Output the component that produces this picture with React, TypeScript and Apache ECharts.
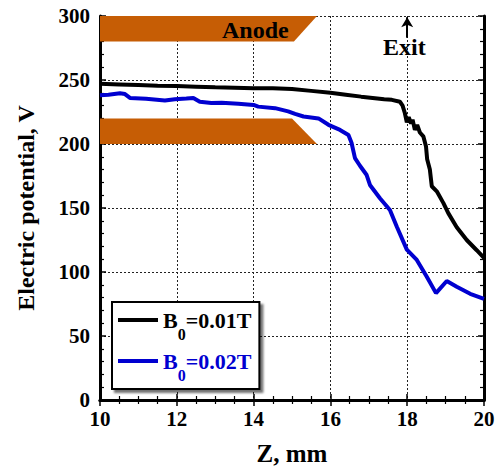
import React, { useEffect, useRef } from "react";
import * as echarts from "echarts";

const seriesNames = ["B0=0.01T", "B0=0.02T"];
const legendLabels: Record<string, string> = {
  "B0=0.01T": "{k|B}{ks|0}{k|=0.01T}",
  "B0=0.02T": "{u|B}{us|0}{u|=0.02T}",
};

const black001: number[][] = [
  [10.0, 247], [10.5, 246.5], [11.0, 246], [11.5, 245.5], [12.0, 245.3], [12.5, 244.8],
  [13.0, 244.3], [13.5, 244], [14.0, 243.5], [14.5, 243.5], [15.0, 243], [15.5, 241.5],
  [16.0, 240], [16.4, 238.5], [16.8, 237], [17.1, 236], [17.4, 235], [17.6, 234.5],
  [17.81, 233], [17.88, 230], [17.94, 224], [17.99, 217], [18.04, 221], [18.1, 216],
  [18.14, 219], [18.2, 211], [18.26, 215], [18.33, 209], [18.42, 206], [18.49, 198],
  [18.52, 188], [18.59, 180], [18.64, 167], [18.77, 163], [18.94, 154], [19.07, 146],
  [19.29, 135], [19.55, 125], [19.81, 117], [20.0, 111],
];

const blue002: number[][] = [
  [10.0, 238], [10.22, 238.5], [10.52, 239.6], [10.65, 239], [10.78, 236], [11.2, 235.3],
  [11.69, 234], [11.95, 235], [12.25, 235.5], [12.43, 236], [12.6, 233], [12.9, 232],
  [13.17, 232.3], [13.6, 231.5], [14.0, 230.5], [14.12, 229.2], [14.56, 228], [14.9, 225.5],
  [15.08, 223.5], [15.3, 221.5], [15.69, 220], [15.95, 215], [16.25, 211], [16.47, 207],
  [16.55, 201], [16.64, 189], [16.77, 183], [16.94, 176], [17.03, 168], [17.29, 157.6],
  [17.55, 148.4], [17.73, 135.4], [17.99, 117.5], [18.25, 109.4], [18.51, 96.3], [18.75, 83.5],
  [19.03, 93], [19.29, 88.5], [19.64, 83], [20.0, 79],
];

const anodeTop: number[][] = [[10, 300], [15.65, 300], [15.05, 280], [10, 280]];
const anodeBottom: number[][] = [[10, 220], [15.0, 220], [15.65, 200], [10, 200]];
const anodePolys = [anodeTop, anodeBottom];

const exitArrow: number[][] = [[18, 283], [18, 299]];

const xTicks = { min: 10, max: 20, interval: 2 };
const yTicks = { min: 0, max: 300, interval: 50 };

const FONT = "'Liberation Serif', 'Times New Roman', serif";

export default function App() {
  const ref = useRef<HTMLDivElement>(null);
  useEffect(() => {
    if (!ref.current) return;
    const chart = echarts.init(ref.current, undefined, { renderer: "svg" });
    const axisLine = { show: true, lineStyle: { color: "#000", width: 3 } };
    const split = { show: true, lineStyle: { color: "#222", width: 1, type: [2, 2] as any } };
    const tick = { show: true, inside: true, length: 6, lineStyle: { color: "#000", width: 1.5 } };
    const minor = (n: number) => ({ show: true, splitNumber: n, length: 4, lineStyle: { color: "#000", width: 1.2 } });
    const labelStyle = { fontFamily: FONT, fontWeight: "bold" as const, fontSize: 21, color: "#000" };

    chart.setOption({
      animation: false,
      backgroundColor: "#fff",
      grid: { left: 100, right: 15, top: 16, bottom: 73, containLabel: false },
      xAxis: [
        {
          type: "value", ...xTicks, position: "bottom",
          name: "Z, mm", nameLocation: "middle", nameGap: 41,
          nameTextStyle: { fontFamily: FONT, fontWeight: "bold", fontSize: 25, color: "#000" },
          axisLine, axisTick: tick, minorTick: minor(4), splitLine: split,
          axisLabel: { ...labelStyle, margin: 8, formatter: (v: number) => String(v) },
        },
        {
          type: "value", ...xTicks, position: "top",
          axisLine, axisTick: tick, minorTick: minor(4), splitLine: { show: false },
          axisLabel: { show: false },
        },
      ],
      yAxis: [
        {
          type: "value", ...yTicks, position: "left",
          name: "Electric potential, V", nameLocation: "middle", nameGap: 62,
          nameTextStyle: { fontFamily: FONT, fontWeight: "bold", fontSize: 24, color: "#000" },
          axisLine, axisTick: tick, minorTick: minor(5), splitLine: split,
          axisLabel: { ...labelStyle, margin: 10 },
        },
        {
          type: "value", ...yTicks, position: "right",
          axisLine, axisTick: tick, minorTick: minor(5), splitLine: { show: false },
          axisLabel: { show: false },
        },
      ],
      legend: {
        orient: "vertical",
        left: 112,
        top: 302,
        padding: [7, 8, 6, 6],
        itemGap: 8,
        itemWidth: 40,
        itemHeight: 4,
        icon: "rect",
        backgroundColor: "#fff",
        borderColor: "#000",
        borderWidth: 2,
        borderRadius: 0,
        shadowColor: "rgba(0,0,0,0.55)",
        shadowBlur: 2,
        shadowOffsetX: 3,
        shadowOffsetY: 3,
        data: seriesNames,
        formatter: (name: string) => legendLabels[name],
        textStyle: {
          fontFamily: FONT,
          fontWeight: "bold",
          rich: {
            k: { fontFamily: FONT, fontWeight: "bold", fontSize: 22, color: "#000", lineHeight: 22, verticalAlign: "top" },
            ks: { fontFamily: FONT, fontWeight: "bold", fontSize: 16, color: "#000", lineHeight: 15, padding: [17, 0, 0, 0], verticalAlign: "top" },
            u: { fontFamily: FONT, fontWeight: "bold", fontSize: 22, color: "#0000d0", lineHeight: 22, verticalAlign: "top" },
            us: { fontFamily: FONT, fontWeight: "bold", fontSize: 16, color: "#0000d0", lineHeight: 15, padding: [17, 0, 0, 0], verticalAlign: "top" },
          },
        },
      },
      graphic: [
        {
          type: "text", left: 222, top: 18, z: 10,
          style: { text: "Anode", font: `bold 24px ${FONT}`, fill: "#000" },
        },
        {
          type: "text", left: 383, top: 35, z: 10,
          style: { text: "Exit", font: `bold 24px ${FONT}`, fill: "#000" },
        },
      ],
      series: [
        {
          type: "custom",
          name: "anode",
          z: 1,
          silent: true,
          data: anodePolys.map((p) => p[0]),
          encode: { x: 0, y: 1 },
          renderItem: (params: any, api: any) => {
            const poly = anodePolys[params.dataIndex];
            return {
              type: "polygon",
              shape: { points: poly.map((p) => api.coord(p)) },
              style: { fill: "#c65d05" },
            };
          },
        },
        {
          type: "line",
          name: seriesNames[0],
          data: black001,
          showSymbol: false,
          symbol: "none",
          z: 3,
          lineStyle: { color: "#000", width: 4 },
          itemStyle: { color: "#000" },
          markLine: {
            silent: true,
            symbol: ["none", "arrow"],
            symbolSize: [9, 10],
            label: { show: false },
            lineStyle: { color: "#000", width: 2, type: "solid" },
            data: [[{ coord: exitArrow[0] }, { coord: exitArrow[1] }]],
          },
        },
        {
          type: "line",
          name: seriesNames[1],
          data: blue002,
          showSymbol: false,
          symbol: "none",
          z: 3,
          lineStyle: { color: "#0000d0", width: 4 },
          itemStyle: { color: "#0000d0" },
        },
      ],
    });
    return () => chart.dispose();
  }, []);
  return <div ref={ref} style={{ width: 499, height: 473, position: "absolute", left: 0, top: 0 }} />;
}
